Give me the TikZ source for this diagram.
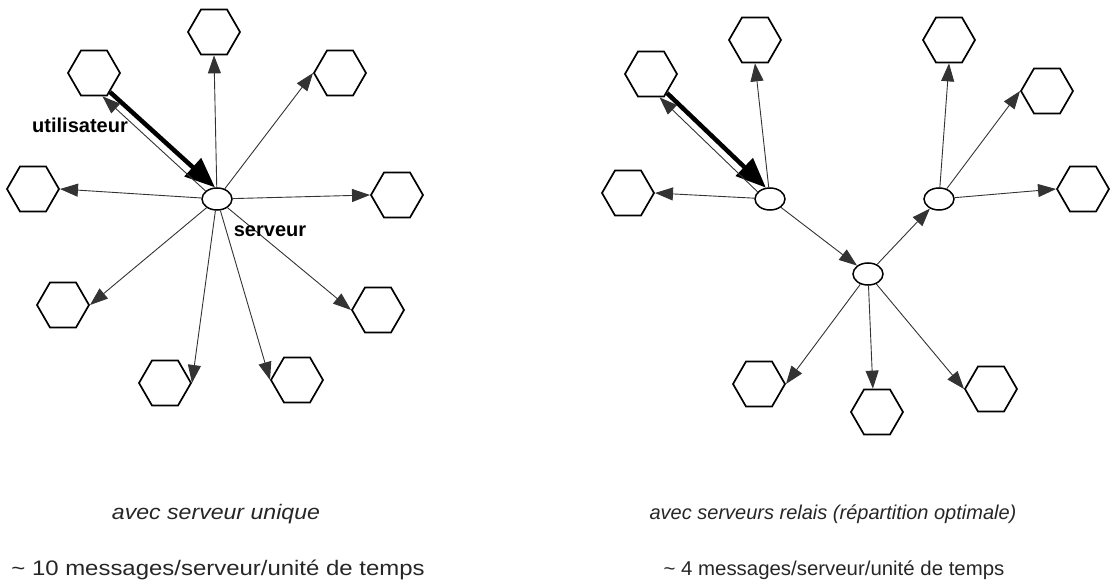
\documentclass[tikz,border=0pt]{standalone}
\usepackage{fontspec}
\setmainfont{Liberation Sans}
\usetikzlibrary{shapes.geometric,arrows.meta}

\begin{document}
\begin{tikzpicture}[x=1pt, y=-1pt,
        hexa/.style={regular polygon, regular polygon sides=6, minimum size=52pt,
            inner sep=0pt, draw, line width=1.7pt},
        srv/.style={ellipse, draw, line width=1.5pt, minimum width=30pt,
            minimum height=22pt, inner sep=0pt},
        msg/.style={line width=0.9pt, draw=black!80, -{Triangle[length=18pt,width=13pt]}},
        bigmsg/.style={line width=4.5pt, -{Triangle[length=30pt,width=24pt]}},
        lbl/.style={font=\fontsize{20}{20}\selectfont\bfseries},
        captxt/.style={font=\fontsize{20}{20}\selectfont\itshape, text=black!85},
        rate/.style={font=\fontsize{20}{20}\selectfont, text=black!85}]
    \useasboundingbox (0,0) rectangle (1119,588);

    % Left: one server, every client attached to it
    \node[srv] (srvL) at (217,199) {};
    \foreach \n/\x/\y in {su/94/73, s1/214/32, s2/340/73, s3/33/189, s4/397/195,
                          s5/63/305, s6/378/310, s7/165/383, s8/297/380}
        \node[hexa] (\n) at (\x,\y) {};

    \foreach \t in {s1.south, s2.west, s3.east, s4.west, s5.east, s6.west, s7.east, s8.west}
        \draw[msg] (srvL) -- (\t);

    % user sends one message, gets it back
    \draw[bigmsg] (su.-50) -- (srvL.100);
    \draw[msg] (srvL.145) -- (su.-70);

    \node[lbl] (lblu) at (80,125) {utilisateur};
    \node[lbl] (lbls) at (270,231) {serveur};

    % Right: three relay servers
    \node[srv] (srvA) at (770,199) {};
    \node[srv] (srvB) at (868,274) {};
    \node[srv] (srvC) at (939,199) {};
    \foreach \n/\x/\y in {ru/651/74, r1/755/40, r2/628/193, r3/949/40, r4/1047/91,
                          r5/1083/189, r6/759/384, r7/877/412, r8/991/389}
        \node[hexa] (\n) at (\x,\y) {};

    \foreach \a/\t in {srvA/r1.south, srvA/r2.east, srvA/srvB, srvB/srvC,
                       srvC/r3.south, srvC/r4.west, srvC/r5.west,
                       srvB/r6.east, srvB/r7.100, srvB/r8.west}
        \draw[msg] (\a) -- (\t);

    \draw[bigmsg] (ru.-50) -- (srvA.110);
    \draw[msg] (srvA.150) -- (ru.-70);

    % captions
    \node[captxt] (capL) at (216,514) {\scalebox{1.1}[1]{\fontsize{21}{21}\selectfont avec serveur unique}};
    \node[rate] (rateL) at (218,570) {\scalebox{1.14}[1]{\fontsize{21}{21}\selectfont\textasciitilde{} 10 messages/serveur/unité de temps}};
    \node[captxt] (capR) at (833,514) {avec serveurs relais (répartition optimale)};
    \node[rate] (rateR) at (834,570) {\scalebox{1.02}[1]{\textasciitilde{} 4 messages/serveur/unité de temps}};
\end{tikzpicture}
\end{document}
